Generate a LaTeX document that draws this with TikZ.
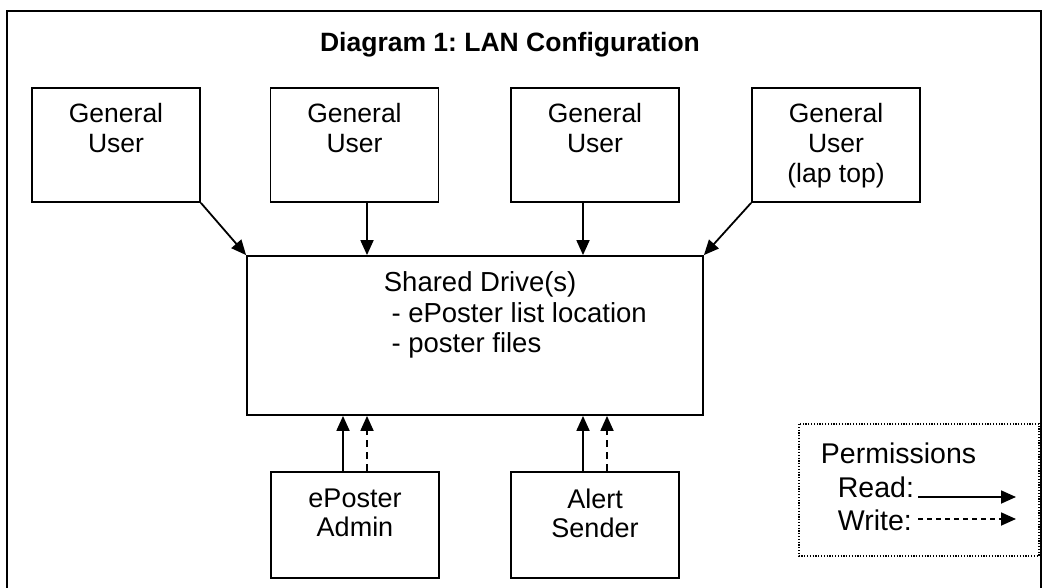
\documentclass[tikz,border=0pt]{standalone}
\usepackage{fontspec}
\setmainfont{Liberation Sans}
\usetikzlibrary{arrows.meta}
\frenchspacing
\begin{document}
\begin{tikzpicture}[x=1pt,y=-1pt,
  line width=1.8pt,
  box/.style={draw,line width=1.8pt,minimum width=168pt,minimum height=114pt,inner sep=0pt},
  bigbox/.style={draw,line width=1.8pt,minimum width=456pt,minimum height=159pt,inner sep=0pt},
  botbox/.style={draw,line width=1.8pt,minimum width=168pt,minimum height=106pt,inner sep=0pt},
  txt/.style={font=\fontsize{26.5}{30}\selectfont,align=center,inner sep=0pt,anchor=north},
  btxt/.style={font=\fontsize{27}{29}\selectfont,align=center,inner sep=0pt,anchor=north},
  stxt/.style={font=\fontsize{27.5}{30.5}\selectfont,align=left,inner sep=0pt},
  ltxt/.style={font=\fontsize{28.5}{33}\selectfont,align=left,inner sep=0pt},
  arr/.style={-{Triangle[length=15pt,width=13pt]},line width=1.8pt},
  warr/.style={arr,dash pattern=on 7pt off 5pt},
  legarr/.style={-{Triangle[length=15pt,width=13pt]},line width=1.8pt},
  legwarr/.style={legarr,dash pattern=on 5pt off 4pt}]
\useasboundingbox (0,0) rectangle (1051,588);
\clip (0,0) rectangle (1051,588);
% outer frame
\draw[line width=1.8pt] (7,11) rectangle (1041,620);
% title
\node[font=\bfseries\fontsize{26.5}{30.5}\selectfont,anchor=base,inner sep=0pt] (title) at (510,52) {Diagram 1: LAN Configuration};
% top boxes
\node[box] (u1) at (116,145) {};
\node[box] (u2) at (354.5,145) {};
\node[box] (u3) at (595,145) {};
\node[box] (u4) at (836,145) {};
\node[txt] (t1) at ([yshift=-15.7pt]u1.north) {General\\User};
\node[txt] (t2) at ([yshift=-15.7pt]u2.north) {General\\User};
\node[txt] (t3) at ([yshift=-15.7pt]u3.north) {General\\User};
\node[txt] (t4) at ([yshift=-15.7pt]u4.north) {General\\User\\(lap top)};
% shared drive
\node[bigbox] (sd) at (475,335.5) {};
\node[stxt,anchor=north west] (sdt) at (383,271) {Shared Drive(s)\\\ - ePoster list location\\\ - poster files};
% bottom boxes
\node[botbox] (ad) at (355,525) {};
\node[botbox] (al) at (595,525) {};
\node[btxt] (adt) at ([yshift=-16.5pt]ad.north) {ePoster\\Admin};
\node[btxt] (alt) at ([yshift=-16.5pt]al.north) {Alert\\Sender};
% connectors top
\draw[arr] (u1.south east) -- (sd.north west);
\draw[arr] ([xshift=12.5pt]u2.south) -- ([xshift=12.5pt]u2.south |- sd.north);
\draw[arr] ([xshift=-12pt]u3.south) -- ([xshift=-12pt]u3.south |- sd.north);
\draw[arr] (u4.south west) -- (sd.north east);
% connectors bottom
\draw[arr] ([xshift=-12pt]ad.north) -- ([xshift=-12pt]ad.north |- sd.south);
\draw[warr] ([xshift=12pt]ad.north) -- ([xshift=12pt]ad.north |- sd.south);
\draw[arr] ([xshift=-12pt]al.north) -- ([xshift=-12pt]al.north |- sd.south);
\draw[warr] ([xshift=12pt]al.north) -- ([xshift=12pt]al.north |- sd.south);
% legend
\draw[line width=1.2pt,dash pattern=on 1.2pt off 1.6pt] (799,424) rectangle (1039,556);
\node[ltxt,anchor=base west] (perm) at (820,463) {Permissions};
\node[ltxt,anchor=base west] (read) at (837,497) {Read:};
\node[ltxt,anchor=base west] (write) at (837,530) {Write:};
\coordinate (r1) at (918,497);
\coordinate (r2) at (1016,497);
\coordinate (w1) at (918,519);
\coordinate (w2) at (1016,519);
\draw[legarr] (r1) -- (r2);
\draw[legwarr] (w1) -- (w2);
\end{tikzpicture}
\end{document}
